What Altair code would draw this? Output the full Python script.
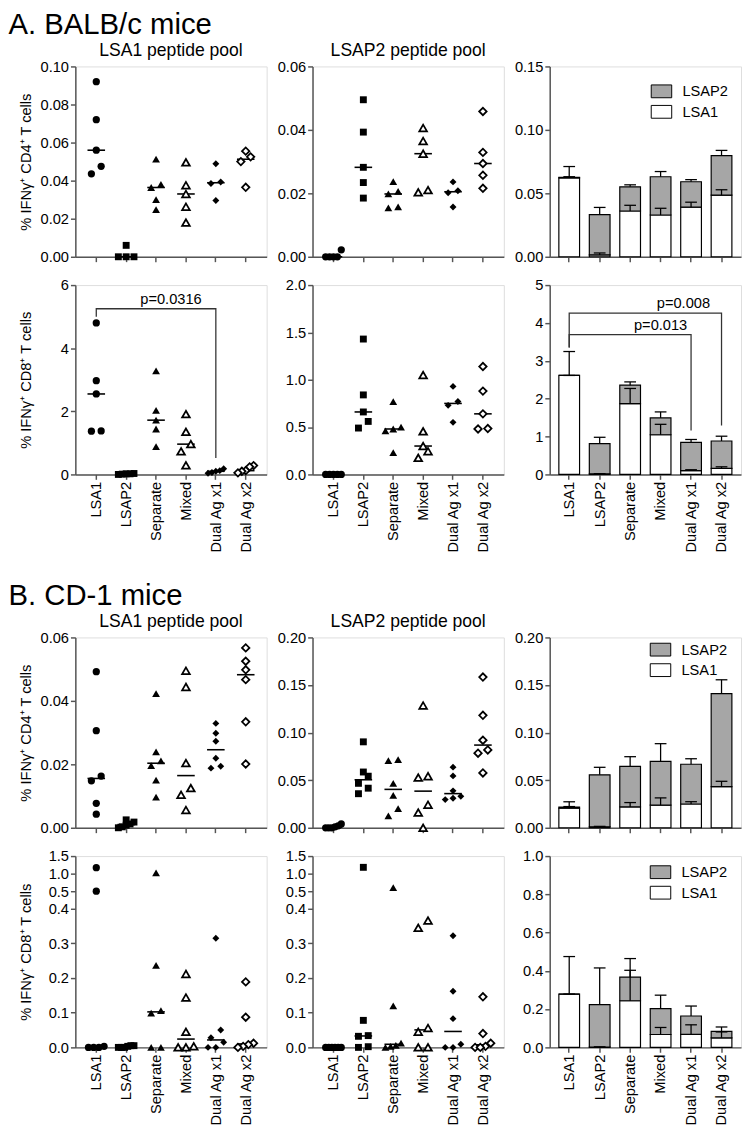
import altair as alt
import numpy as np
import pandas as pd

FONT = "Liberation Sans"
GRAY = "#a6a6a6"
AXC = "#555555"

GROUPS = ["LSA1", "LSAP2", "Separate", "Mixed", "Dual Ag x1", "Dual Ag x2"]
SHAPES = ["circle", "square", "triangle-up", "triangle-up", "diamond", "diamond"]
OPEN = [False, False, False, True, False, True]
COMPONENTS = ["LSAP2", "LSA1"]

# ---------------- A. BALB/c mice ----------------
a_cd4_lsa1 = [
    [0.092, 0.072, 0.056, 0.0475, 0.0436],
    [0.006, 0.0, 0.0, 0.0],
    [0.0513, 0.038, 0.0364, 0.030, 0.0248],
    [0.0496, 0.0376, 0.033, 0.0263, 0.018],
    [0.0489, 0.0393, 0.0385, 0.0296],
    [0.0555, 0.0525, 0.050, 0.0365],
]
a_cd4_lsap2 = [
    [0.0022, 0.0, 0.0, 0.0, 0.0],
    [0.0495, 0.0393, 0.0282, 0.0234, 0.0185],
    [0.0237, 0.0206, 0.0198, 0.0157, 0.0154],
    [0.0406, 0.0365, 0.0325, 0.0210, 0.0203],
    [0.0236, 0.0208, 0.0202, 0.0157],
    [0.0458, 0.0329, 0.0294, 0.0257, 0.0216],
]
a_cd8_lsa1 = [
    [4.80, 2.97, 2.55, 1.37, 1.38],
    [0.02, 0.0, 0.03, 0.01, 0.02],
    [3.28, 2.03, 1.72, 1.44, 0.88],
    [1.91, 1.35, 0.96, 0.73, 0.29],
    [0.18, 0.12, 0.10, 0.06, 0.04],
    [0.28, 0.24, 0.12, 0.10, 0.05],
]
a_cd8_lsap2 = [
    [0.0, 0.0, 0.0, 0.0, 0.0],
    [1.43, 0.84, 0.66, 0.56, 0.49],
    [0.77, 0.50, 0.48, 0.46, 0.23],
    [1.05, 0.455, 0.30, 0.245, 0.175],
    [0.93, 0.77, 0.73, 0.55],
    [1.14, 0.88, 0.64, 0.485, 0.48],
]

# ---------------- B. CD-1 mice ----------------
b_cd4_lsa1 = [
    [0.0492, 0.0306, 0.0163, 0.0148, 0.0077, 0.0043],
    [0.0025, 0.0018, 0.0012, 0.0008, 0.0003, 0.0],
    [0.0423, 0.0239, 0.0211, 0.0196, 0.0150, 0.0097],
    [0.0495, 0.0444, 0.0204, 0.0125, 0.0104, 0.0056],
    [0.0329, 0.0298, 0.0273, 0.0219, 0.0194, 0.0188],
    [0.0567, 0.0525, 0.0498, 0.0467, 0.0334, 0.0201],
]
b_cd4_lsap2 = [
    [0.004, 0.002, 0.001, 0.0, 0.0, 0.0],
    [0.0903, 0.0586, 0.0542, 0.0467, 0.0416, 0.0358],
    [0.0716, 0.0705, 0.0467, 0.034, 0.020, 0.0126],
    [0.1285, 0.0542, 0.0528, 0.0242, 0.016, 0.0],
    [0.0637, 0.0545, 0.0388, 0.0330, 0.031, 0.0296],
    [0.1584, 0.1182, 0.092, 0.0818, 0.0784, 0.0576],
]
b_cd8_lsa1 = [
    [1.17, 0.50, 0.003, 0.0, 0.0, 0.0],
    [0.005, 0.005, 0.003, 0.0, 0.0, 0.0],
    [1.02, 0.237, 0.106, 0.099, 0.0, 0.0],
    [0.212, 0.144, 0.045, 0.003, 0.0, 0.0],
    [0.315, 0.05, 0.028, 0.015, 0.0, 0.0],
    [0.189, 0.087, 0.012, 0.008, 0.003, 0.0],
]
b_cd8_lsap2 = [
    [0.0, 0.0, 0.0, 0.0, 0.0, 0.0],
    [1.18, 0.078, 0.034, 0.032, 0.002, 0.0],
    [0.60, 0.12, 0.012, 0.006, 0.003, 0.0],
    [0.366, 0.345, 0.056, 0.045, 0.0, 0.0],
    [0.322, 0.162, 0.083, 0.009, 0.0, 0.0],
    [0.146, 0.04, 0.012, 0.003, 0.0, 0.0],
]

# axis ticks
ticks_a_cd4_lsa1 = [0, 0.02, 0.04, 0.06, 0.08, 0.10]
ticks_a_cd4_lsap2 = [0, 0.02, 0.04, 0.06]
ticks_a_cd4_bar = [0, 0.05, 0.10, 0.15]
ticks_a_cd8_lsa1 = [0, 2, 4, 6]
ticks_a_cd8_lsap2 = [0, 0.5, 1.0, 1.5, 2.0]
ticks_a_cd8_bar = [0, 1, 2, 3, 4, 5]
ticks_b_cd4_lsa1 = [0, 0.02, 0.04, 0.06]
ticks_b_cd4_lsap2 = [0, 0.05, 0.10, 0.15, 0.20]
ticks_b_cd4_bar = [0, 0.05, 0.10, 0.15, 0.20]
ticks_b_cd8_broken = [0, 0.1, 0.2, 0.3, 0.4, 0.5, 1.0, 1.5]
ticks_b_cd8_bar = [0, 0.2, 0.4, 0.6, 0.8, 1.0]

# broken axis: domain breakpoints and share of plot height
broken_domain = [0, 0.4, 0.5, 1.5]
broken_frac = [0, 0.7245, 0.8163, 1.0]

# significance brackets: (from, to, top, left-leg end, right-leg end, label, label group, label shift in steps)
a_cd8_lsa1_brackets = [("LSA1", "Dual Ag x1", 5.25, 5.0, 0.52, "p=0.0316", "Separate", 0.5)]
a_cd8_bar_brackets = [
    ("LSA1", "Dual Ag x2", 4.26, 3.35, 1.29, "p=0.008", "Dual Ag x1", -0.25),
    ("LSA1", "Dual Ag x1", 3.69, 3.35, 1.16, "p=0.013", "Mixed", 0.0),
]

CD4_TITLE = "% IFNγ⁺ CD4⁺ T cells"
CD8_TITLE = "% IFNγ⁺ CD8⁺ T cells"

W = 196
SIZES = [55, 50, 64, 62, 50, 58]


def y_axis(ticks, fmt, title=None, first=False):
    kw = dict(values=ticks, format=fmt, grid=False, domainColor=AXC, tickColor=AXC,
              domainWidth=1.5, tickWidth=1.5, tickSize=5, labelFontSize=15,
              labelColor="black", labelPadding=2, labelOverlap=False, labelFlush=False,
              titleFontSize=15, titleFontWeight="normal", titleColor="black", titlePadding=4,
              labelFont=FONT, titleFont=FONT)
    if first:
        kw.update(minExtent=39, maxExtent=39)
    return alt.Axis(title=title, **kw)


def x_axis(show_labels):
    return alt.Axis(title=None, domainColor=AXC, tickColor=AXC, domainWidth=1.5, tickWidth=1.5,
                    tickSize=5, labelFontSize=15, labelColor="black", labelAngle=270,
                    labelPadding=2, labels=show_labels, labelFont=FONT)


def dodge(hp, thr=8.0, span=16.0, maxstep=10.0):
    order = np.argsort(hp, kind="stable")
    offs = np.zeros(len(hp))
    i = 0
    while i < len(order):
        j = i
        while j + 1 < len(order) and hp[order[j + 1]] - hp[order[i]] < thr:
            j += 1
        k = j - i + 1
        if k > 1:
            st = min(maxstep, span / (k - 1))
            for m in range(k):
                offs[order[i + m]] = (m - (k - 1) / 2) * st
        i = j + 1
    return offs


def panel_title(text):
    return alt.TitleParams(text, fontSize=18, fontWeight="normal", font=FONT, color="black",
                           anchor="middle", offset=0)


def bracket_layers(brackets, X, ys, yax, step):
    rows = []
    for bi, (g1, g2, top, lb, rb, label, lg, shift) in enumerate(brackets):
        rows += [dict(id=bi, o=0, group=g1, y=lb), dict(id=bi, o=1, group=g1, y=top),
                 dict(id=bi, o=2, group=g2, y=top), dict(id=bi, o=3, group=g2, y=rb)]
    out = [alt.Chart(pd.DataFrame(rows)).mark_line(color="#333333", strokeWidth=1.3).encode(
        x=X, y=alt.Y("y:Q", scale=ys, axis=yax), order="o:Q", detail="id:N")]
    for (g1, g2, top, lb, rb, label, lg, shift) in brackets:
        out.append(alt.Chart(pd.DataFrame([dict(group=lg, y=top, t=label)])).mark_text(
            fontSize=15, font=FONT, baseline="bottom", dy=-2, dx=shift * step, color="black").encode(
            x=X, y=alt.Y("y:Q", scale=ys, axis=yax), text="t:N"))
    return out


def scatter(vals, H, ticks, fmt, ydom, yfrac, title=None, ytitle=None, first=False,
            show_labels=False, brackets=()):
    step = W / (len(GROUPS) + 0.4)
    yrng = [f * H for f in yfrac]
    rows = []
    for gi, g in enumerate(GROUPS):
        v = np.array(vals[gi], float)
        hp = np.interp(v, ydom, yrng)
        offs = dodge(hp)
        for val, o in zip(v, offs):
            rows.append({"group": g, "value": val, "xoff": float(o), "open": int(OPEN[gi])})
    df = pd.DataFrame(rows)
    xs = alt.Scale(type="band", domain=GROUPS, paddingInner=0, paddingOuter=0.2)
    if len(ydom) > 2:
        ys = alt.Scale(domain=ydom, range=[H - r for r in yrng], nice=False, zero=False)
    else:
        ys = alt.Scale(domain=ydom, nice=False)
    yax = y_axis(ticks, fmt, ytitle, first)
    X = alt.X("group:N", scale=xs, axis=x_axis(show_labels))
    Y = alt.Y("value:Q", scale=ys, axis=yax)
    XO = alt.XOffset("xoff:Q", scale=alt.Scale(domain=[-step / 2, step / 2]))
    base = alt.Chart(df)
    layers = [
        base.transform_filter("datum.open == 0").mark_tick(
            color="black", size=18, thickness=1.6, opacity=1).encode(
            x=X, y=alt.Y("median(value):Q", scale=ys, axis=yax)),
        base.transform_filter("datum.open == 1").mark_tick(
            color="black", size=18, thickness=1.6, opacity=1, strokeDash=[4, 3]).encode(
            x=X, y=alt.Y("median(value):Q", scale=ys, axis=yax)),
    ]
    for gi, g in enumerate(GROUPS):
        if OPEN[gi]:
            mk = dict(shape=SHAPES[gi], size=SIZES[gi], filled=True, fill="white",
                      stroke="black", strokeWidth=1.8, opacity=1)
        else:
            mk = dict(shape=SHAPES[gi], size=SIZES[gi], filled=True, color="black", opacity=1)
        layers.append(base.transform_filter(alt.datum.group == g).mark_point(**mk).encode(
            x=X, y=Y, xOffset=XO))
    layers += bracket_layers(brackets, X, ys, yax, step)
    props = dict(width=W, height=H)
    if title:
        props["title"] = panel_title(title)
    return alt.layer(*layers).properties(**props)


def bars(vals1, vals2, H, ymax, ticks, fmt, legend_xy=None, show_labels=False, brackets=()):
    rows = []
    for gi, g in enumerate(GROUPS):
        a = np.array(vals1[gi], float)
        b = np.array(vals2[gi], float)
        ma, sa = a.mean(), a.std(ddof=1) / np.sqrt(len(a))
        mb, sb = b.mean(), b.std(ddof=1) / np.sqrt(len(b))
        rows.append(dict(group=g, component="LSA1", lo=0.0, hi=ma, end=ma + sa))
        rows.append(dict(group=g, component="LSAP2", lo=ma, hi=ma + mb, end=ma + mb + sb))
    df = pd.DataFrame(rows)
    xs = alt.Scale(type="band", domain=GROUPS, paddingInner=0.32, paddingOuter=0.3)
    step = W / (len(GROUPS) - 0.32 + 0.6)
    ys = alt.Scale(domain=[0, ymax], nice=False)
    yax = y_axis(ticks, fmt, None, False)
    X = alt.X("group:N", scale=xs, axis=x_axis(show_labels))
    if legend_xy is not None:
        leg = alt.Legend(orient="none", legendX=legend_xy[0], legendY=legend_xy[1], title=None,
                         symbolType="M-1.6,-1H1.6V1H-1.6Z", symbolSize=172,
                         symbolStrokeColor="black", symbolStrokeWidth=1, labelFontSize=15,
                         labelFont=FONT, labelColor="black", labelOffset=14, rowPadding=2,
                         padding=0)
        fill = alt.Fill("component:N", scale=alt.Scale(domain=COMPONENTS, range=[GRAY, "white"]),
                        legend=leg)
    else:
        fill = alt.Fill("component:N", scale=alt.Scale(domain=COMPONENTS, range=[GRAY, "white"]),
                        legend=None)
    base = alt.Chart(df)
    layers = [
        base.mark_bar(stroke="black", strokeWidth=1.2, opacity=1).encode(
            x=X, y=alt.Y("lo:Q", scale=ys, axis=yax), y2="hi:Q", fill=fill),
        base.mark_rule(color="black", strokeWidth=1.3).encode(
            x=X, y=alt.Y("hi:Q", scale=ys, axis=yax), y2="end:Q"),
        base.mark_tick(color="black", size=12, thickness=1.3, opacity=1).encode(
            x=X, y=alt.Y("end:Q", scale=ys, axis=yax)),
    ]
    layers += bracket_layers(brackets, X, ys, yax, step)
    return alt.layer(*layers).properties(width=W, height=H)


LIN = [0, 1]

a11 = scatter(a_cd4_lsa1, 195, ticks_a_cd4_lsa1, ".2f", [0, 0.10], LIN,
              title="LSA1 peptide pool", ytitle=CD4_TITLE, first=True)
a12 = scatter(a_cd4_lsap2, 195, ticks_a_cd4_lsap2, ".2f", [0, 0.06], LIN,
              title="LSAP2 peptide pool")
a13 = bars(a_cd4_lsa1, a_cd4_lsap2, 195, 0.15, ticks_a_cd4_bar, ".2f", legend_xy=(107, 18))
a21 = scatter(a_cd8_lsa1, 194, ticks_a_cd8_lsa1, "d", [0, 6], LIN, ytitle=CD8_TITLE,
              first=True, show_labels=True, brackets=a_cd8_lsa1_brackets)
a22 = scatter(a_cd8_lsap2, 194, ticks_a_cd8_lsap2, ".1f", [0, 2.0], LIN, show_labels=True)
a23 = bars(a_cd8_lsa1, a_cd8_lsap2, 194, 5, ticks_a_cd8_bar, "d", show_labels=True,
           brackets=a_cd8_bar_brackets)

b11 = scatter(b_cd4_lsa1, 195, ticks_b_cd4_lsa1, ".2f", [0, 0.06], LIN,
              title="LSA1 peptide pool", ytitle=CD4_TITLE, first=True)
b12 = scatter(b_cd4_lsap2, 195, ticks_b_cd4_lsap2, ".2f", [0, 0.20], LIN,
              title="LSAP2 peptide pool")
b13 = bars(b_cd4_lsa1, b_cd4_lsap2, 195, 0.20, ticks_b_cd4_bar, ".2f", legend_xy=(106, 5))
b21 = scatter(b_cd8_lsa1, 196, ticks_b_cd8_broken, ".1f", broken_domain, broken_frac,
              ytitle=CD8_TITLE, first=True, show_labels=True)
b22 = scatter(b_cd8_lsap2, 196, ticks_b_cd8_broken, ".1f", broken_domain, broken_frac,
              show_labels=True)
b23 = bars(b_cd8_lsa1, b_cd8_lsap2, 196, 1.0, ticks_b_cd8_bar, ".1f", legend_xy=(106, 9),
           show_labels=True)


def main_title(text):
    return alt.TitleParams(text, anchor="start", fontSize=30, fontWeight="normal", font=FONT,
                           color="black", dx=-10, offset=2)


def grid(panels, text):
    return alt.concat(*panels, columns=3, spacing={"row": 12, "column": 9}, align="each",
                      title=main_title(text)).resolve_scale(
        fill="independent", xOffset="independent").resolve_legend(fill="independent")


gridA = grid([a11, a12, a13, a21, a22, a23], "A. BALB/c mice")
gridB = grid([b11, b12, b13, b21, b22, b23], "B. CD-1 mice")

chart = alt.vconcat(gridA, gridB, spacing=28).resolve_scale(
    fill="independent", xOffset="independent").resolve_legend(fill="independent").properties(
    padding={"left": 0, "top": -12, "right": 0, "bottom": 0}).configure_view(
    stroke=AXC, strokeWidth=1.5).configure(font=FONT)

chart.save("out.html", embed_options={"renderer": "svg", "actions": False})
